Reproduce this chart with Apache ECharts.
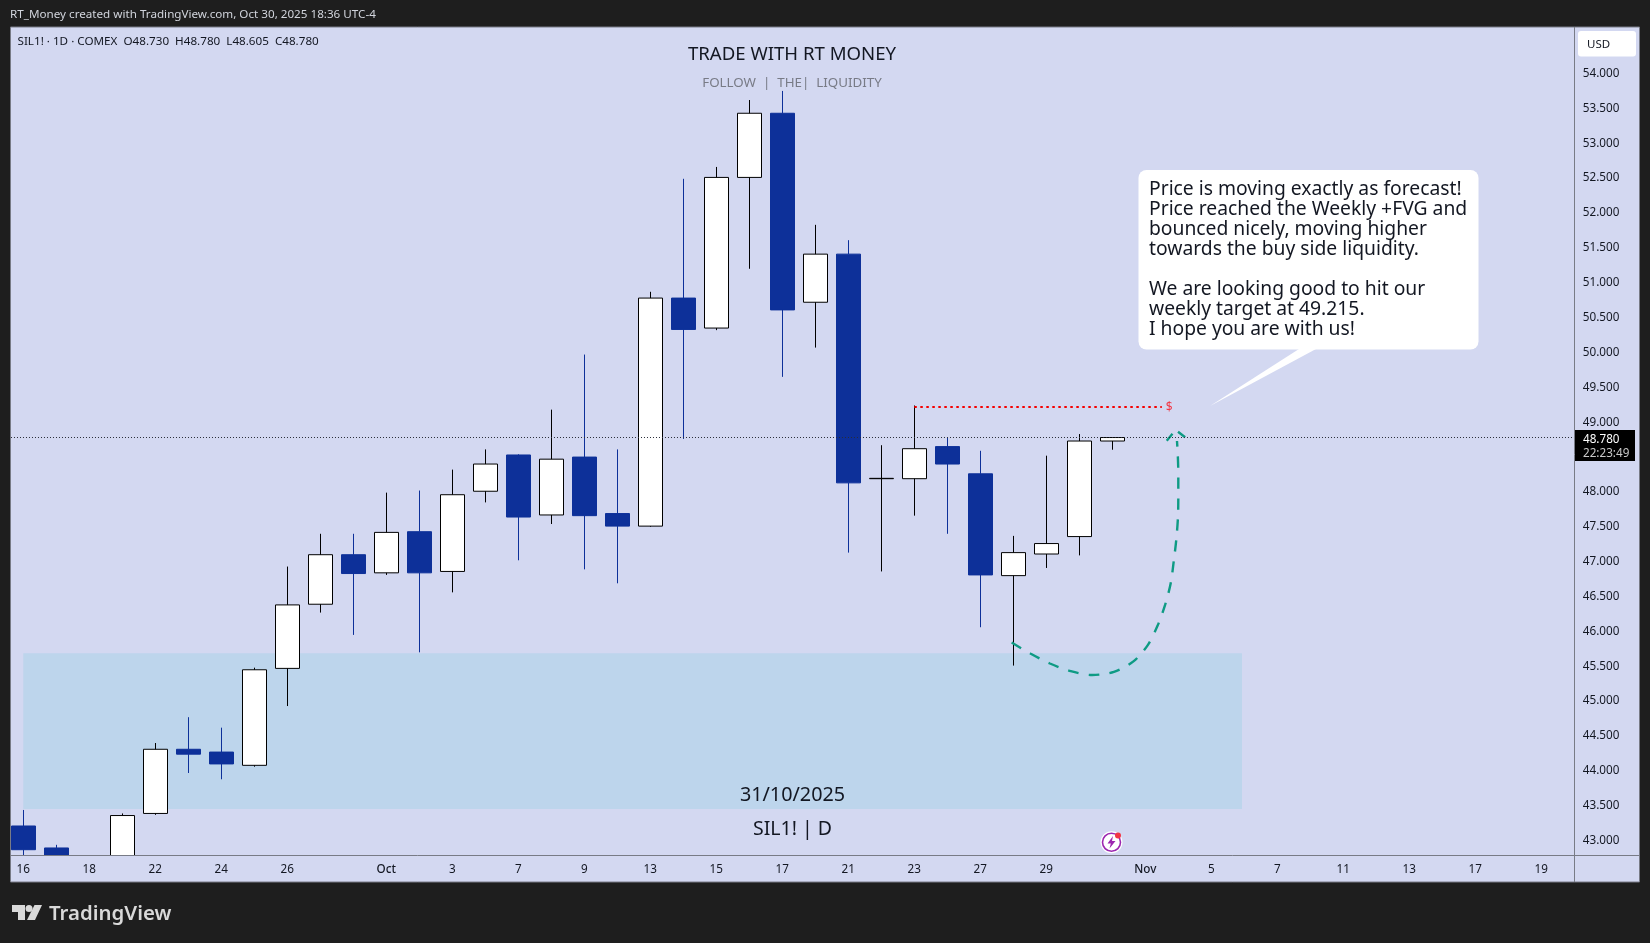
<!DOCTYPE html>
<html>
<head>
<meta charset="utf-8">
<title>SIL1! 1D</title>
<script src="https://cdn.jsdelivr.net/npm/echarts@6/dist/echarts.min.js"></script>
<style>
html, body { margin: 0; padding: 0; background: #1e1e1e; }
#chart { width: 1650px; height: 943px; }
</style>
</head>
<body>
<div id="chart"></div>
<script>
// daily bars, 16 Sep - 31 Oct 2025
// the first bars sit under the time axis so their hidden parts are estimates
var days = ['09-16','09-17','09-18','09-19','09-22','09-23','09-24','09-25','09-26','09-29','09-30',
    '10-01','10-02','10-03','10-06','10-07','10-08','10-09','10-10','10-13','10-14','10-15','10-16','10-17',
    '10-20','10-21','10-22','10-23','10-24','10-27','10-28','10-29','10-30','10-31'];
var open = [43.21,42.895,42.70,42.55,43.39,44.31,44.27,44.08,45.47,46.39,47.10,
    46.84,47.43,46.86,48.01,48.53,47.67,48.50,47.69,47.51,50.78,50.35,52.51,53.43,
    50.72,51.41,48.19,48.19,48.65,48.26,46.80,47.11,47.36,48.73];
var high = [43.44,42.94,42.75,43.39,44.40,44.77,44.62,45.48,46.93,47.40,47.40,
    47.99,48.02,48.32,48.61,48.54,49.18,49.97,48.61,50.87,52.49,52.66,53.62,53.75,
    51.83,51.61,48.67,49.24,48.78,48.59,47.37,48.52,48.83,48.78];
var low = [42.70,42.55,42.55,42.52,43.37,43.97,43.88,44.06,44.93,46.27,45.95,
    46.81,45.70,46.56,47.85,47.02,47.54,46.89,46.69,47.50,48.76,50.32,51.20,49.65,
    50.07,47.13,46.86,47.66,47.40,46.06,45.51,46.91,47.09,48.605];
var close = [42.87,42.60,42.60,43.36,44.31,44.24,44.10,45.45,46.38,47.10,46.83,
    47.42,46.84,47.96,48.40,47.64,48.47,47.66,47.51,50.78,50.33,52.51,53.43,50.61,
    51.41,48.13,48.195,48.62,48.40,46.81,47.13,47.26,48.73,48.78];

// time axis labels by bar slot, blanks are slots without a label
var timeLabels = ['16','','18','','22','','24','','26','','','Oct','','3','','7','','9','','13','','15','','17',
    '','21','','23','','27','','29','','','Nov','','5','','7','','11','','13','','17','','19',''];
var xMin = -1, xMax = 47;
var yMin = 42.5, yMax = 55;
var yFirstLabel = 43, yLastLabel = 54;

// levels and zone
var lastPrice = 48.78;
var targetPrice = 49.215;
var targetFrom = 27, targetTo = 34.5;
var zoneFrom = 0, zoneTo = 36.93;
var zoneTop = 45.686, zoneBottom = 43.454;
var panelStart = -0.373;

// hand drawn forecast curve
var curveX = [29.95,30.53,31.11,31.74,32.39,33.05,33.64,34.07,34.37,34.6,34.77,34.86,34.94,34.99,35.0,35.0,34.98,34.96];
var curveY = [45.84,45.68,45.54,45.43,45.375,45.42,45.57,45.80,46.08,46.38,46.69,47.00,47.32,47.64,47.94,48.26,48.58,48.73];
var arrowX = [34.65,34.92,35.30];
var arrowY = [48.735,48.89,48.75];

var noteLines = ['Price is moving exactly as forecast!','Price reached the Weekly +FVG and','bounced nicely, moving higher',
    'towards the buy side liquidity.','','We are looking good to hit our','weekly target at 49.215.','I hope you are with us!'];

var FONT = '"Noto Sans", sans-serif';
var INK = '#131722';
var BLUE = '#0d3099';
var GREY = '#787b86';
var PANEL = '#d3d8f1';

function zip(xs, ys) {
    var res = [];
    for (var i = 0; i < xs.length; i++) {
        res.push([xs[i], ys[i]]);
    }
    return res;
}

function txt(x, y, text, size, color, align, z) {
    return {
        type: 'text', x: x, y: y, z: z || 100, silent: true,
        style: { text: text, font: size + 'px ' + FONT, fill: color, align: align || 'left', verticalAlign: 'middle' }
    };
}

function box(x, y, w, h, color, r, z) {
    return {
        type: 'rect', z: z || 100, silent: true,
        shape: { x: x, y: y, width: w, height: h, r: r || 0 },
        style: { fill: color }
    };
}

function buildGraphic() {
    var g = [];
    // light panel behind everything
    g.push(box(10.5, 27, 1629, 855, PANEL, 0, -10));
    // time axis strip hides what runs under the axis
    g.push(box(10.5, 855.5, 1629, 26.5, PANEL, 0, 80));
    // frame lines
    g.push({ type: 'rect', z: 90, silent: true, shape: { x: 10.5, y: 27, width: 1629, height: 855 },
        style: { fill: 'none', stroke: GREY, lineWidth: 1 } });
    g.push({ type: 'line', z: 90, silent: true, shape: { x1: 1574.5, y1: 27, x2: 1574.5, y2: 882 }, style: { stroke: GREY, lineWidth: 1 } });
    g.push({ type: 'line', z: 90, silent: true, shape: { x1: 10.5, y1: 855.5, x2: 1639.5, y2: 855.5 }, style: { stroke: GREY, lineWidth: 1 } });

    // header and legend
    g.push(txt(10, 14.5, 'RT_Money created with TradingView.com, Oct 30, 2025 18:36 UTC-4', 11.66, '#d1d4dc'));
    g.push(txt(17.5, 42, 'SIL1! \u00b7 1D \u00b7 COMEX  O48.730  H48.780  L48.605  C48.780', 11.67, INK));
    g.push(txt(792, 55, 'TRADE WITH RT MONEY', 18.6, INK, 'center'));
    g.push(txt(792, 83, 'FOLLOW  |  THE|  LIQUIDITY', 13.35, GREY, 'center'));
    g.push(txt(792.5, 795, '31/10/2025', 19.8, INK, 'center'));
    g.push(txt(792.5, 829, 'SIL1! | D', 19.5, INK, 'center'));

    // callout
    g.push({ type: 'polygon', z: 95, silent: true, shape: { points: [[1299, 349], [1316, 349], [1210, 406]] }, style: { fill: '#fff' } });
    g.push(box(1138.5, 170, 340, 179.5, '#fff', 8, 95));
    for (var i = 0; i < noteLines.length; i++) {
        g.push(txt(1149, 189.5 + i * 20, noteLines[i], 19.3, INK));
    }

    // price axis widgets
    g.push(box(1578, 31, 58, 25.5, '#fff', 3));
    g.push(txt(1587, 44.5, 'USD', 11.5, INK));
    g.push(box(1575, 430, 60, 31, '#000'));
    g.push(txt(1583, 440, '48.780', 11.7, '#fff'));
    g.push(txt(1583, 453.5, '22:23:49', 11.7, '#c8c8c8'));

    // flash icon
    g.push({ type: 'circle', z: 100, silent: true, shape: { cx: 1111.5, cy: 842.3, r: 11 }, style: { fill: '#fff' } });
    g.push({ type: 'circle', z: 101, silent: true, shape: { cx: 1111.5, cy: 842.3, r: 9 }, style: { fill: '#fff', stroke: '#9c27b0', lineWidth: 1.6 } });
    g.push({ type: 'polygon', z: 102, silent: true, shape: { points: [[1113, 836], [1107.5, 843.5], [1110.8, 843.5], [1109.5, 848.5], [1115.5, 841], [1112, 841]] }, style: { fill: '#9c27b0' } });
    g.push({ type: 'circle', z: 103, silent: true, shape: { cx: 1118, cy: 835.5, r: 3 }, style: { fill: '#f23645' } });

    // TradingView mark
    g.push({ type: 'polygon', z: 100, silent: true, shape: { points: [[12, 905], [25, 905], [25, 920], [18, 920], [18, 912], [12, 912]] }, style: { fill: '#d9d9d9' } });
    g.push({ type: 'circle', z: 100, silent: true, shape: { cx: 29, cy: 908.5, r: 3.5 }, style: { fill: '#d9d9d9' } });
    g.push({ type: 'polygon', z: 100, silent: true, shape: { points: [[34.5, 905], [42, 905], [35, 920], [27, 920]] }, style: { fill: '#d9d9d9' } });
    g.push({ type: 'text', x: 49, y: 914, z: 100, silent: true, style: { text: 'TradingView', font: '600 20.4px ' + FONT, fill: '#d9d9d9', verticalAlign: 'middle' } });
    return g;
}

var candleData = [];
for (var i = 0; i < days.length; i++) {
    candleData.push([i, open[i], close[i], low[i], high[i]]);
}

var myChart = echarts.init(document.getElementById('chart'));
var option = {
    animation: false,
    backgroundColor: '#1e1e1e',
    // one bar slot is 33px, one price unit is 69.74px
    grid: { left: -9.7, width: 1584, top: 3.76, height: 871.75, outerBoundsMode: 'none' },
    xAxis: {
        type: 'value',
        min: xMin,
        max: xMax,
        interval: 1,
        z: 85,
        splitLine: { show: false },
        axisLine: { show: false },
        axisTick: { show: false },
        axisLabel: {
            hideOverlap: false,
            // the labels belong to y=868, the grid bottom is at 875
            inside: true,
            margin: 0,
            verticalAlign: 'middle',
            lineHeight: 14,
            padding: [0, 0, 12, 0],
            color: INK,
            fontFamily: FONT,
            fontSize: 11.7,
            formatter: function (v) {
                var s = timeLabels[v];
                if (s === undefined) return '';
                return (s === 'Oct' || s === 'Nov') ? '{m|' + s + '}' : s;
            },
            rich: { m: { fontFamily: FONT, fontSize: 11.7, fontWeight: 500, color: INK } }
        }
    },
    yAxis: {
        type: 'value',
        position: 'right',
        min: yMin,
        max: yMax,
        interval: 0.5,
        z: 85,
        splitLine: { show: false },
        axisLine: { show: false },
        axisTick: { show: false },
        axisLabel: {
            margin: 8.5,
            padding: [2, 0, 0, 0],
            color: INK,
            fontFamily: FONT,
            fontSize: 11.7,
            formatter: function (v) {
                return (v < yFirstLabel || v > yLastLabel) ? '' : v.toFixed(3);
            }
        }
    },
    series: [
        {
            // zone + levels, kept under the candles
            name: 'levels',
            type: 'line',
            z: 1,
            data: [],
            markArea: {
                silent: true,
                itemStyle: { color: '#bdd5ec' },
                data: [[{ coord: [zoneFrom, zoneTop] }, { coord: [zoneTo, zoneBottom] }]]
            },
            markLine: {
                silent: true,
                symbol: 'none',
                label: { show: false },
                data: [
                    [{ coord: [panelStart, lastPrice], lineStyle: { color: '#2a2e39', width: 1, type: [1, 2] } }, { coord: [xMax, lastPrice] }],
                    [{ coord: [targetFrom, targetPrice], lineStyle: { color: '#f50000', width: 2, type: [2.5, 3.5] } },
                     { coord: [targetTo, targetPrice], label: { show: true, position: 'end', formatter: '$', color: '#f23645', fontFamily: FONT, fontSize: 12, distance: 4 } }]
                ]
            }
        },
        {
            name: 'SIL1!',
            type: 'candlestick',
            z: 3,
            barWidth: 24,
            itemStyle: {
                color: '#ffffff',
                color0: BLUE,
                borderColor: '#000000',
                borderColor0: BLUE,
                borderWidth: 1
            },
            data: candleData
        },
        {
            name: 'curve',
            type: 'line',
            z: 4,
            symbol: 'none',
            smooth: 0.3,
            lineStyle: { color: '#0e9b84', width: 2.4, type: [11, 10] },
            data: zip(curveX, curveY)
        },
        {
            name: 'arrow',
            type: 'line',
            z: 4,
            symbol: 'none',
            lineStyle: { color: '#0e9b84', width: 2.4, type: [9, 8] },
            data: zip(arrowX, arrowY)
        }
    ],
    graphic: { elements: buildGraphic() }
};
myChart.setOption(option);
</script>
</body>
</html>
